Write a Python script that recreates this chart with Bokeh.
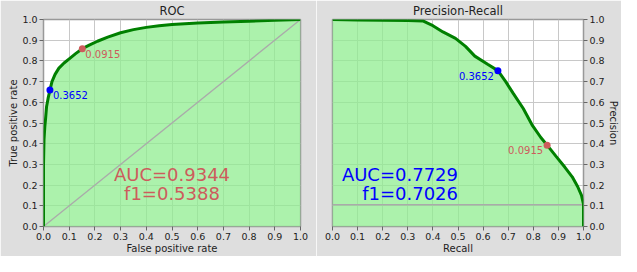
from bokeh.plotting import figure
from bokeh.layouts import row
from bokeh.models import Label, FixedTicker, CustomJSTickFormatter
from bokeh.embed import file_html
from bokeh.resources import INLINE

# ---------------- data ----------------
roc_fpr = [0.0, 0.0, 0.002, 0.005, 0.008, 0.012, 0.018, 0.025, 0.033, 0.045, 0.06, 0.08, 0.1,
           0.125, 0.151, 0.18, 0.21, 0.25, 0.3, 0.35, 0.4, 0.45, 0.5, 0.6, 0.7, 0.8, 0.9, 1.0]
roc_tpr = [0.0, 0.3, 0.42, 0.48, 0.52, 0.58, 0.62, 0.659, 0.70, 0.735, 0.765, 0.79, 0.81,
           0.835, 0.859, 0.877, 0.895, 0.915, 0.936, 0.951, 0.962, 0.97, 0.976, 0.983, 0.988,
           0.992, 0.996, 1.0]

pr_recall = [0.0, 0.1, 0.2, 0.3, 0.36, 0.40, 0.44, 0.49, 0.53, 0.567, 0.618, 0.659, 0.69, 0.72,
             0.76, 0.797, 0.83, 0.855, 0.89, 0.926, 0.955, 0.977, 0.992, 1.0, 1.0]
pr_precision = [1.0, 0.998, 0.996, 0.995, 0.993, 0.97, 0.94, 0.909, 0.87, 0.823, 0.784, 0.753,
                0.70, 0.643, 0.57, 0.487, 0.43, 0.393, 0.34, 0.286, 0.24, 0.192, 0.15, 0.108, 0.0]

thresholds = ["0.3652", "0.0915"]
threshold_colors = ["blue", "indianred"]
roc_thr_fpr = [0.025, 0.151]
roc_thr_tpr = [0.659, 0.859]
pr_thr_recall = [0.659, 0.855]
pr_thr_precision = [0.753, 0.393]

auc_vals = ["0.9344", "0.7729"]
f1_vals = ["0.5388", "0.7026"]
pr_baseline = 0.105

ticks = [0.0, 0.1, 0.2, 0.3, 0.4, 0.5, 0.6, 0.7, 0.8, 0.9, 1.0]
tick_labels = ["0.0", "0.1", "0.2", "0.3", "0.4", "0.5", "0.6", "0.7", "0.8", "0.9", "1.0"]

FONT = "DejaVu Sans"
BG = "#dedede"


def style(p, xlabel, ylabel):
    p.title.align = "center"
    p.title.text_font = FONT
    p.title.text_font_size = "11.5px"
    p.title.text_font_style = "normal"
    p.title.text_color = "#222222"
    p.title.standoff = 3
    fmt = CustomJSTickFormatter(args=dict(tvals=ticks, tlabels=tick_labels), code="""
        let best = 0, d = 1e9;
        for (let i = 0; i < tvals.length; i++) {
            const dd = Math.abs(tvals[i] - tick);
            if (dd < d) { d = dd; best = i; }
        }
        return tlabels[best];
    """)
    for ax, lab in ((p.xaxis, xlabel), (p.yaxis, ylabel)):
        ax.ticker = FixedTicker(ticks=ticks)
        ax.formatter = fmt
        ax.axis_label = lab
        ax.axis_label_text_font = FONT
        ax.axis_label_text_font_size = "10px"
        ax.axis_label_text_font_style = "normal"
        ax.axis_label_text_color = "#222222"
        ax.axis_label_standoff = 0
        ax.major_label_text_font = FONT
        ax.major_label_text_font_size = "9.5px"
        ax.major_label_text_color = "#222222"
        ax.major_label_standoff = 2
        ax.minor_tick_line_color = None
        ax.major_tick_in = 0
        ax.major_tick_out = 4
        ax.major_tick_line_color = "#666666"
        ax.axis_line_color = None
    p.xgrid.ticker = FixedTicker(ticks=ticks)
    p.ygrid.ticker = FixedTicker(ticks=ticks)
    p.grid.grid_line_color = "#c8c8c8"
    p.grid.grid_line_width = 1


# ---------------- ROC ----------------
p1 = figure(width=316, height=256, x_range=(0, 1), y_range=(0, 1), title="ROC",
            output_backend="svg", toolbar_location=None,
            min_border_left=43, min_border_right=16, min_border_top=0, min_border_bottom=0,
            background_fill_color="white", border_fill_color=BG,
            outline_line_color="#999999", outline_line_width=1.5)
style(p1, "False positive rate", "True positive rate")

p1.patch(roc_fpr + [1.0], roc_tpr + [0.0], fill_color="#90ee90", fill_alpha=0.75, line_color=None)
p1.line([0, 1], [0, 1], line_color="#aaaaaa", line_width=1.3)
p1.line(roc_fpr, roc_tpr, line_color="green", line_width=3)
p1.scatter(roc_thr_fpr, roc_thr_tpr, size=7, color=threshold_colors, line_color=None)
for i in range(2):
    p1.add_layout(Label(x=roc_thr_fpr[i], y=roc_thr_tpr[i], text=thresholds[i],
                        x_offset=3, y_offset=-1, text_baseline="top", text_align="left",
                        text_color=threshold_colors[i], text_font=FONT, text_font_size="10px"))
p1.add_layout(Label(x=0.5, y=0.25, text="AUC=" + auc_vals[0], text_align="center",
                    text_baseline="middle", text_color="indianred", text_font=FONT,
                    text_font_size="18px"))
p1.add_layout(Label(x=0.5, y=0.16, text="f1=" + f1_vals[0], text_align="center",
                    text_baseline="middle", text_color="indianred", text_font=FONT,
                    text_font_size="18px"))

# ---------------- Precision-Recall ----------------
p2 = figure(width=305, height=256, x_range=(0, 1), y_range=(0, 1), title="Precision-Recall",
            output_backend="svg", toolbar_location=None, y_axis_location="right",
            min_border_left=16, min_border_right=0, min_border_top=0, min_border_bottom=0,
            background_fill_color="white", border_fill_color=BG,
            outline_line_color="#999999", outline_line_width=1.5)
style(p2, "Recall", "Precision")
p2.yaxis.axis_label_orientation = "vertical"

p2.patch(pr_recall + [0.0], pr_precision + [0.0], fill_color="#90ee90", fill_alpha=0.75,
         line_color=None)
p2.line([0, 1], [pr_baseline, pr_baseline], line_color="#aaaaaa", line_width=1.3)
p2.line(pr_recall, pr_precision, line_color="green", line_width=3)
p2.scatter(pr_thr_recall, pr_thr_precision, size=7, color=threshold_colors, line_color=None)
for i in range(2):
    p2.add_layout(Label(x=pr_thr_recall[i], y=pr_thr_precision[i], text=thresholds[i],
                        x_offset=-4, y_offset=-1, text_baseline="top", text_align="right",
                        text_color=threshold_colors[i], text_font=FONT, text_font_size="10px"))
p2.add_layout(Label(x=0.5, y=0.25, text="AUC=" + auc_vals[1], text_align="right",
                    text_baseline="middle", text_color="blue", text_font=FONT,
                    text_font_size="18px"))
p2.add_layout(Label(x=0.5, y=0.16, text="f1=" + f1_vals[1], text_align="right",
                    text_baseline="middle", text_color="blue", text_font=FONT,
                    text_font_size="18px"))

layout = row(p1, p2)
open("out.html", "w").write(file_html(layout, INLINE))
